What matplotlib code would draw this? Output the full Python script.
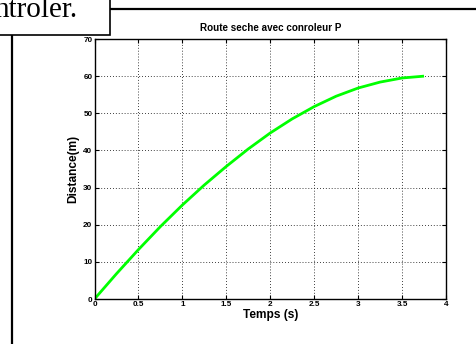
import matplotlib
matplotlib.use("Agg")
import matplotlib.pyplot as plt
from matplotlib.lines import Line2D
from matplotlib.patches import Rectangle

# Data
temps = [0, 0.25, 0.5, 0.75, 1.0, 1.25, 1.5, 1.75, 2.0, 2.25, 2.5, 2.75, 3.0, 3.25, 3.5, 3.75]
distance = [0, 6.8, 13.3, 19.5, 25.3, 30.7, 35.7, 40.4, 44.7, 48.5, 51.8, 54.6, 56.8, 58.4, 59.5, 60.0]
xticks = [0, 0.5, 1, 1.5, 2, 2.5, 3, 3.5, 4]
xticklabels = ["0", "0.5", "1", "1.5", "2", "2.5", "3", "3.5", "4"]
yticks = [0, 10, 20, 30, 40, 50, 60, 70]
yticklabels = ["0", "10", "20", "30", "40", "50", "60", "70"]
title = "Route seche avec conroleur P"
xlabel = "Temps (s)"
ylabel = "Distance(m)"

W, H = 476, 344
fig = plt.figure(figsize=(W / 100, H / 100), dpi=100)
fig.patch.set_facecolor("white")

def fx(px):
    return px / W

def fy(py):
    return 1 - py / H

# Document decorations (frame lines and clipped text box)
fig.add_artist(Line2D([fx(110), fx(476)], [fy(9), fy(9)], color="black", lw=1.6))
fig.add_artist(Line2D([fx(11.5), fx(11.5)], [fy(35), fy(344)], color="black", lw=1.6))
fig.add_artist(Rectangle((fx(-2), fy(34.5)), fx(112), 34.5 / H + 0.01, transform=fig.transFigure,
                         facecolor="white", edgecolor="black", lw=1.2, zorder=5))
fig.text(fx(77), fy(17), "ntroler.", family="Liberation Serif", fontsize=21,
         ha="right", va="baseline", zorder=6)

ax = fig.add_axes([fx(94.5), fy(299), fx(446 - 94.5), (299 - 39) / H])
ax.plot(temps, distance, color=(0, 1, 0), lw=2.0, solid_capstyle="butt", solid_joinstyle="round")
ax.set_xlim(0, 4)
ax.set_ylim(0, 70)
ax.set_xticks(xticks)
ax.set_xticklabels(xticklabels)
ax.set_yticks(yticks)
ax.set_yticklabels(yticklabels)
ax.grid(True, color="black", linestyle=(0, (1, 2.5)), lw=0.6)
ax.tick_params(direction="in", length=3, width=0.8, top=True, right=True,
               labelsize=5.9, pad=1.5)
for lab in ax.get_xticklabels() + ax.get_yticklabels():
    lab.set_fontweight("bold")
    lab.set_family("Liberation Sans")
for s in ax.spines.values():
    s.set_linewidth(1.0)

ax.set_title(title, fontsize=7.1, fontweight="bold", family="Liberation Sans", pad=6)
ax.set_xlabel(xlabel, fontsize=8.6, fontweight="bold", family="Liberation Sans", labelpad=1)
ax.set_ylabel(ylabel, fontsize=8.6, fontweight="bold", family="Liberation Sans", labelpad=3)

fig.savefig("out.png", dpi=100)
